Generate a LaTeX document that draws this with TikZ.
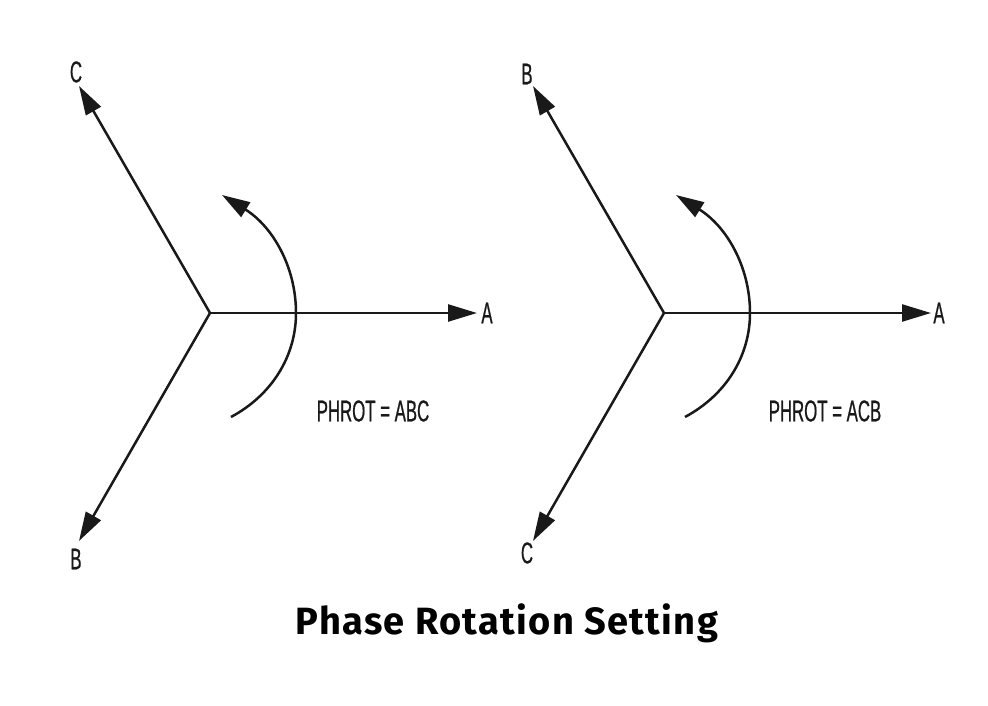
\documentclass[tikz,border=0pt]{standalone}
\usepackage{fontspec}
\newfontfamily\narrowfont[FakeStretch=0.56,FakeBold=0.6]{Liberation Sans}
\newfontfamily\titlefont[LetterSpace=3.5]{Fira Sans}
\usetikzlibrary{arrows.meta}
\tikzset{
  vec/.style={line width=2.5pt, draw=black!90, -{Triangle[length=29pt,width=17pt]}},
  rot/.style={line width=2.5pt, draw=black!90, -{Triangle[length=28pt,width=17pt]}},
  lbl/.style={font=\narrowfont\fontsize{30}{30}\selectfont, inner sep=0pt, text=black!90},
  ttl/.style={font=\titlefont\bfseries\fontsize{38}{38}\selectfont, inner sep=0pt}
}
\begin{document}
\begin{tikzpicture}[x=1pt,y=-1pt]
\useasboundingbox (0,0) rectangle (988,706);
% left diagram
\coordinate (O1) at (210,313);
\coordinate (A1) at (477,313);
\coordinate (C1) at (79,86);
\coordinate (B1) at (79,541);
\draw[vec] (O1) -- (A1);
\draw[vec] (O1) -- (C1);
\draw[vec] (O1) -- (B1);
\node[lbl] (lA1) at (487,313) {A};
\node[lbl] (lC1) at (76,72) {C};
\node[lbl] (lB1) at (76,559) {B};
\coordinate (S1) at (231,417);
\coordinate (M1) at (296,313);
\coordinate (E1) at (222,195);
\draw[rot] (S1) .. controls (272,395) and (296,356) .. (M1) .. controls (296,266) and (272,226) .. (E1);
\node[lbl] (p1) at (373,411) {PHROT = ABC};
% right diagram
\coordinate (O2) at (664,313);
\coordinate (A2) at (931,313);
\coordinate (B2) at (533,86);
\coordinate (C2) at (533,541);
\draw[vec] (O2) -- (A2);
\draw[vec] (O2) -- (B2);
\draw[vec] (O2) -- (C2);
\node[lbl] (lA2) at (939,313) {A};
\node[lbl] (lB2) at (527,74) {B};
\node[lbl] (lC2) at (527,553) {C};
\coordinate (S2) at (685,417);
\coordinate (M2) at (750,313);
\coordinate (E2) at (676,195);
\draw[rot] (S2) .. controls (726,395) and (750,356) .. (M2) .. controls (750,266) and (726,226) .. (E2);
\node[lbl] (p2) at (825,411) {PHROT = ACB};
% title
\node[ttl] (t) at (507,623) {Phase Rotation Setting};
\end{tikzpicture}
\end{document}
